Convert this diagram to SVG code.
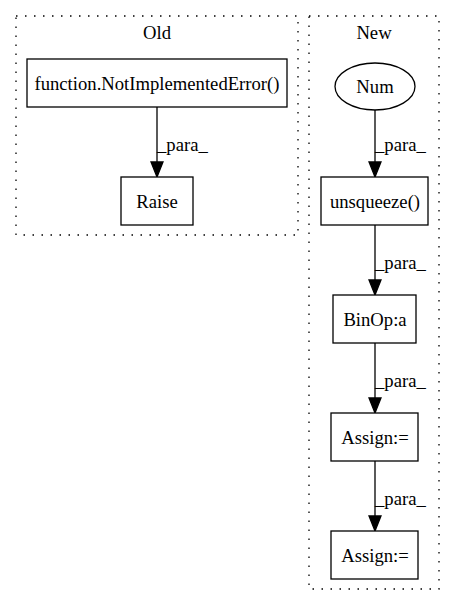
<svg xmlns="http://www.w3.org/2000/svg" width="456" height="606" viewBox="0 0 456 606">
<style>
  text { font-family: "Liberation Serif", "Times New Roman", serif; font-size: 18.67px; fill: #000; }
  .c { text-anchor: middle; }
  .cluster { fill: none; stroke: #000; stroke-width: 1.3; stroke-dasharray: 1.5,7.5; }
  .node { fill: #fff; stroke: #000; stroke-width: 1.3; }
  .edge { fill: none; stroke: #000; stroke-width: 1.3; }
  .head { fill: #000; stroke: #000; stroke-width: 1.3; }
</style>
<rect width="456" height="606" fill="#fff"/>
<g id="cluster_old">
  <rect class="cluster" x="16" y="16" width="282" height="219"/>
  <text class="c" x="157" y="39">Old</text>
</g>
<g id="cluster_new">
  <rect class="cluster" x="309" y="16" width="130" height="573"/>
  <text class="c" x="374" y="39">New</text>
</g>
<g id="connectors">
  <path class="edge" d="M157,107 L157,162"/>
  <polygon class="head" points="151,162 163,162 157,177"/>
  <text x="157" y="151">_para_</text>
  <path class="edge" d="M375,110 L375,162"/>
  <polygon class="head" points="369,162 381,162 375,177"/>
  <text x="375" y="151">_para_</text>
  <path class="edge" d="M375,225 L375,280"/>
  <polygon class="head" points="369,280 381,280 375,295"/>
  <text x="375" y="269">_para_</text>
  <path class="edge" d="M375,343 L375,398"/>
  <polygon class="head" points="369,398 381,398 375,413"/>
  <text x="375" y="387">_para_</text>
  <path class="edge" d="M375,461 L375,516"/>
  <polygon class="head" points="369,516 381,516 375,531"/>
  <text x="375" y="505">_para_</text>
</g>
<g id="node_notimpl">
  <rect class="node" x="27" y="59" width="260" height="48"/>
  <text class="c" x="157" y="90">function.NotImplementedError()</text>
</g>
<g id="node_raise">
  <rect class="node" x="121" y="177" width="72" height="48"/>
  <text class="c" x="157" y="208">Raise</text>
</g>
<g id="node_num">
  <ellipse class="node" cx="375" cy="86.5" rx="40" ry="23.5"/>
  <text class="c" x="375" y="93">Num</text>
</g>
<g id="node_unsqueeze">
  <rect class="node" x="321" y="177" width="107" height="48"/>
  <text class="c" x="375" y="208">unsqueeze()</text>
</g>
<g id="node_binop">
  <rect class="node" x="333" y="295" width="83" height="48"/>
  <text class="c" x="375" y="326">BinOp:a</text>
</g>
<g id="node_assign1">
  <rect class="node" x="331" y="413" width="87" height="48"/>
  <text class="c" x="375" y="444">Assign:=</text>
</g>
<g id="node_assign2">
  <rect class="node" x="331" y="531" width="87" height="48"/>
  <text class="c" x="375" y="562">Assign:=</text>
</g>
</svg>
